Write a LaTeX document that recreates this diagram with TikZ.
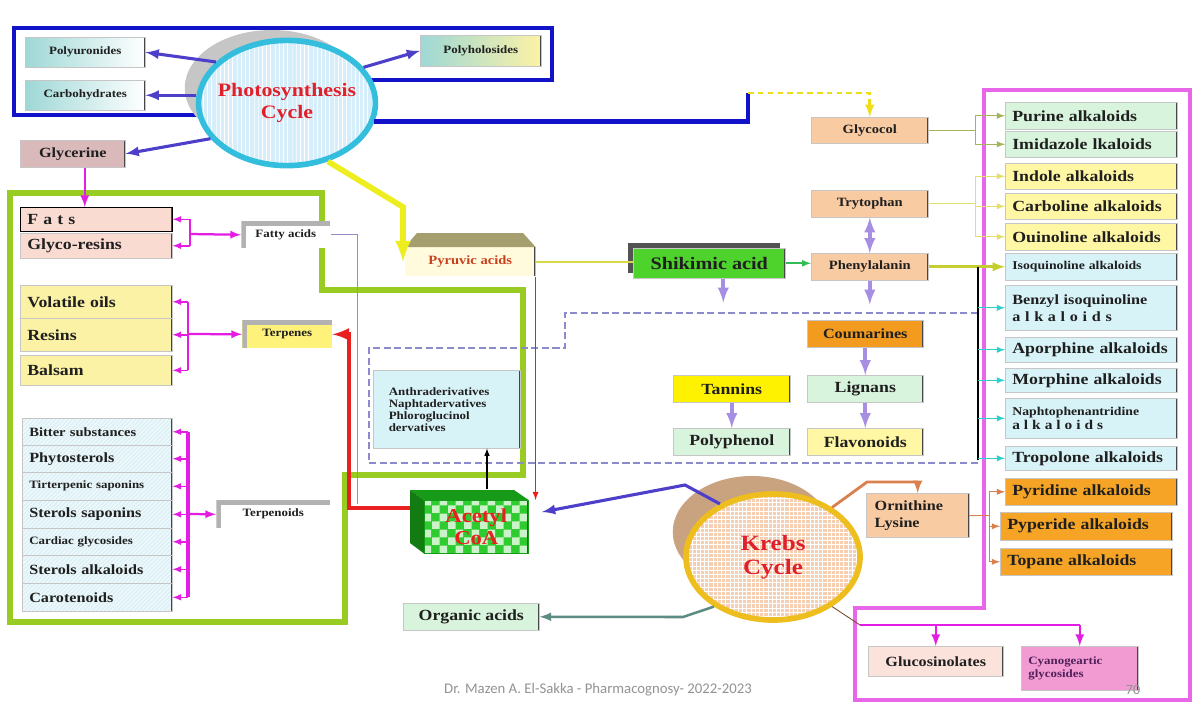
\documentclass[tikz,border=0pt]{standalone}
\usepackage{fontspec}
\setmainfont{Liberation Serif}[FakeStretch=1.15]
\newfontfamily\footfont{Carlito}
\usetikzlibrary{arrows,shapes,positioning,patterns}

\definecolor{frameblue}{HTML}{1212C8}
\definecolor{arrowblue}{HTML}{4E3FCB}
\definecolor{framegreen}{HTML}{99CC22}
\definecolor{framepink}{HTML}{E866E8}
\definecolor{magarrow}{HTML}{E41CE4}
\definecolor{lavarrow}{HTML}{A68FE2}
\definecolor{yelarrow}{HTML}{EEEE1E}
\definecolor{redline}{HTML}{E82020}
\definecolor{dashblue}{HTML}{8A8ACC}
\definecolor{boxteal}{HTML}{9ED8D6}
\definecolor{glycfill}{HTML}{D9B9B9}
\definecolor{fatfill}{HTML}{FADBD2}
\definecolor{oilfill}{HTML}{FCF2A6}
\definecolor{terpfill}{HTML}{FFF27A}
\definecolor{listfill}{HTML}{DDF1F7}
\definecolor{pyrfill}{HTML}{FFFBDC}
\definecolor{pyrtop}{HTML}{A59E6E}
\definecolor{pyrtext}{HTML}{C8401E}
\definecolor{shikfill}{HTML}{4ED22C}
\definecolor{peach}{HTML}{F9CBA3}
\definecolor{coumfill}{HTML}{F39B1E}
\definecolor{mintfill}{HTML}{D8F4DC}
\definecolor{lemonfill}{HTML}{FFF7A4}
\definecolor{tannfill}{HTML}{FFF200}
\definecolor{skyfill}{HTML}{D8F3F8}
\definecolor{orangefill}{HTML}{F5A425}
\definecolor{glucfill}{HTML}{FBE3DC}
\definecolor{cyanofill}{HTML}{F29BD2}
\definecolor{cyanotext}{HTML}{50205A}
\definecolor{phfill}{HTML}{D6EEFA}
\definecolor{phring}{HTML}{33BEDD}
\definecolor{phred}{HTML}{E0202A}
\definecolor{krfill}{HTML}{F6CFB2}
\definecolor{krring}{HTML}{EEBE1E}
\definecolor{krshadow}{HTML}{C9A27F}
\definecolor{coagreen}{HTML}{2ECC2E}
\definecolor{coadark}{HTML}{179A17}
\definecolor{orarrow}{HTML}{D9804E}
\definecolor{tealarrow}{HTML}{5C8C84}
\definecolor{linkolive}{HTML}{A2B45A}
\definecolor{linkyellow}{HTML}{E2E06A}
\definecolor{isoline}{HTML}{C5CE2E}
\definecolor{tipcyan}{HTML}{2FCFCF}
\definecolor{pyrlink}{HTML}{D8D848}
\definecolor{greenlink}{HTML}{33BB55}

\begin{document}
\begin{tikzpicture}[x=0.025cm, y=-0.025cm,
    every node/.style={text=black!88},
    box/.style 2 args={draw=gray!45, anchor=north west, inner sep=0pt,
      minimum width=#1*0.025cm, minimum height=#2*0.025cm, align=center,
      path picture={\draw[gray!55!black, line width=1.2pt]
        (path picture bounding box.north east) -- (path picture bounding box.south east);}},
    lbox/.style 2 args={box={#1}{#2}, inner xsep=5pt, text width=#1*0.025cm-10pt, align=left},
    lshape/.style 2 args={box={#1}{#2}, draw=none,
      path picture={\draw[gray!60, line width=6pt]
        (path picture bounding box.south west) |- (path picture bounding box.north east);}},
    hatch/.style={preaction={fill=#1}, pattern=north east lines, pattern color=white},
    sA/.style={font=\bfseries\fontsize{8}{9}\selectfont},
    sB/.style={font=\bfseries\fontsize{9}{10}\selectfont},
    sC/.style={font=\bfseries\fontsize{10}{12}\selectfont},
    sD/.style={font=\bfseries\fontsize{11}{13}\selectfont},
    sE/.style={font=\bfseries\fontsize{12.5}{14}\selectfont},
    bluearr/.style={arrowblue, line width=2.2pt, -latex},
    magarr/.style={magarrow, line width=1.1pt, -latex},
    lavarr/.style={lavarrow, line width=2.6pt, -latex},
    tiparr/.style={line width=1pt, -latex}]

  \useasboundingbox (0,0) rectangle (1195,705);
  \fill[white] (0,0) rectangle (1195,705);

  \draw[frameblue, line width=3.5pt] (14,28) -- (552,28) -- (552,80) -- (290,80) -- (290,115) -- (14,115) -- cycle;
  \draw[framegreen, line width=4pt] (10,193) -- (322,193) -- (322,290) -- (523,290) -- (523,475)
    -- (345,475) -- (345,622) -- (10,622) -- cycle;
  \draw[dashblue, line width=0.8pt, dash pattern=on 5pt off 2.5pt]
    (978,313) -- (565,313) -- (565,348) -- (369,348) -- (369,463) -- (978,463);
  \draw[framepink, line width=3pt] (984,90) -- (1190,90) -- (1190,700) -- (855,700) -- (855,608) -- (984,608) -- cycle;

  \fill[gray!45] (272,88) ellipse [x radius=2.18cm, y radius=1.45cm];
  \node[ellipse, draw=phring, line width=4pt, preaction={fill=phfill}, pattern=vertical lines, pattern color=white,
    minimum width=4.42cm, minimum height=3.13cm, inner sep=0pt] (photo) at (287,103) {};
  \node[text=phred, font=\bfseries\fontsize{13.5}{15.5}\selectfont, align=center] (phtext) at (photo.center) {Photosynthesis\\Cycle};

  \fill[krshadow] (752,532) ellipse [x radius=1.98cm, y radius=1.4cm];
  \node[ellipse, draw=krring, line width=4pt, preaction={fill=krfill}, pattern=grid, pattern color=white,
    minimum width=4.35cm, minimum height=3.15cm, inner sep=0pt] (krebs) at (773,557) {};
  \node[text=phred, font=\bfseries\fontsize{15.5}{17}\selectfont, align=center] (krtext) at (krebs.center) {Krebs\\Cycle};

  \node[box={120}{30}, sA, left color=boxteal, right color=white] (poly) at (25,37) {Polyuronides};
  \node[box={120}{30}, sA, left color=boxteal, right color=white] (carb) at (25,80) {Carbohydrates};
  \node[box={121}{31}, sA, left color=boxteal, right color=oilfill] (polyh) at (420,35) {Polyholosides};
  \node[box={105}{27}, sC, fill=glycfill] (glyc) at (20,140) {Glycerine};

  \node[lbox={152}{24}, sD, fill=fatfill, draw=black] (fats) at (20,207) {F a t s};
  \node[lbox={152}{25}, sD, fill=fatfill] (gres) at (20,233) {Glyco-resins};
  \node[lshape={89}{27}, sA, fill=white] (fatty) at (241,221) {Fatty acids};

  \node[lbox={152}{33}, sD, fill=oilfill] (vol) at (20,285) {Volatile oils};
  \node[lbox={152}{33}, sD, fill=oilfill] (res) at (20,318) {Resins};
  \node[lbox={152}{30}, sD, fill=oilfill] (bal) at (20,355) {Balsam};
  \node[lshape={90}{28}, sA, fill=terpfill] (terp) at (242,320) {Terpenes};

  \node[lbox={150}{27}, sB, hatch=listfill] (bit) at (22,418) {Bitter substances};
  \node[lbox={150}{27}, sC, hatch=listfill] (phy) at (22,445) {Phytosterols};
  \node[lbox={150}{28}, sA, hatch=listfill] (tri) at (22,472) {Tirterpenic saponins};
  \node[lbox={150}{28}, sC, hatch=listfill] (sts) at (22,500) {Sterols saponins};
  \node[lbox={150}{27}, sA, hatch=listfill] (card) at (22,528) {Cardiac glycosides};
  \node[lbox={150}{28}, sC, hatch=listfill] (sal) at (22,555) {Sterols alkaloids};
  \node[lbox={150}{28}, sC, hatch=listfill] (caro) at (22,583) {Carotenoids};
  \node[lshape={114}{28}, sA, fill=white] (tpd) at (216,500) {Terpenoids};

  \node[box={130}{29}, sB, fill=pyrfill, draw=none, text=pyrtext] (pyr) at (405,247) {Pyruvic acids};
  \fill[pyrtop] (pyr.north west) -- ++(12,-14) -- ++(106,0) -- (pyr.north east) -- cycle;
  \fill[gray!65!black] (628,243) rectangle (780,273);
  \node[box={152}{30}, sE, fill=shikfill] (shik) at (633,248) {Shikimic acid};

  \node[box={147}{78}, font=\bfseries\fontsize{8}{8.5}\selectfont, fill=skyfill, inner xsep=10pt,
    text width=2.9cm, align=left] (anth) at (373,370) {Anthraderivatives\\Naphtadervatives\\Phloroglucinol\\dervatives};

  \node[box={104}{53}, draw=coadark, preaction={fill=coagreen}, pattern=checkerboard, pattern color=white!75!coagreen,
    text=redline, font=\bfseries\fontsize{14}{15}\selectfont] (acoa) at (424,500) {Acetyl\\CoA};
  \fill[coadark] (acoa.north west) -- ++(-14,-10) -- ++(104,0) -- (acoa.north east) -- cycle;
  \fill[coadark!80!black] (acoa.north west) -- ++(-14,-10) -- ++(0,53) -- (acoa.south west) -- cycle;

  \node[box={136}{27}, sD, fill=mintfill] (org) at (403,603) {Organic acids};

  \node[box={117}{27}, sD, fill=tannfill] (tann) at (673,375) {Tannins};
  \node[box={117}{27}, sD, fill=mintfill] (pphen) at (673,428) {Polyphenol};
  \node[box={116}{27}, sC, fill=coumfill] (coum) at (807,320) {Coumarines};
  \node[box={116}{27}, sD, fill=mintfill] (lign) at (807,375) {Lignans};
  \node[box={116}{27}, sD, fill=lemonfill] (flav) at (807,428) {Flavonoids};

  \node[box={117}{26}, sB, fill=peach] (glyco) at (811,117) {Glycocol};
  \node[box={117}{27}, sB, fill=peach] (tryp) at (811,190) {Trytophan};
  \node[box={117}{27}, sB, fill=peach] (phen) at (811,253) {Phenylalanin};

  \node[lbox={100}{44}, sC, fill=peach, inner xsep=6pt] (orn) at (866,493) {Ornithine\\Lysine};
  \node[box={135}{30}, sC, fill=glucfill] (gluc) at (868,646) {Glucosinolates};
  \node[lbox={117}{44}, sA, fill=cyanofill, text=cyanotext] (cyano) at (1021,646) {Cyanogeartic\\glycosides};

  \node[lbox={172}{27}, sD, fill=mintfill] (pur) at (1005,102) {Purine alkaloids};
  \node[lbox={172}{26}, sD, fill=mintfill] (imid) at (1005,131) {Imidazole lkaloids};
  \node[lbox={172}{26}, sD, fill=lemonfill] (indo) at (1005,163) {Indole alkaloids};
  \node[lbox={172}{26}, sD, fill=lemonfill] (carbo) at (1005,193) {Carboline alkaloids};
  \node[lbox={172}{27}, sD, fill=lemonfill] (quin) at (1005,223) {Ouinoline alkaloids};
  \node[lbox={172}{27}, font=\bfseries\fontsize{8.5}{9}\selectfont, fill=skyfill] (isoq) at (1005,253) {Isoquinoline alkaloids};
  \node[lbox={172}{45}, sC, fill=skyfill] (benz) at (1005,285) {Benzyl isoquinoline\\a l k a l o i d s};
  \node[lbox={172}{25}, sD, fill=skyfill] (apor) at (1005,337) {Aporphine alkaloids};
  \node[lbox={172}{24}, sD, fill=skyfill] (morph) at (1005,368) {Morphine alkaloids};
  \node[lbox={172}{40}, font=\bfseries\fontsize{8.5}{9.5}\selectfont, fill=skyfill] (naph) at (1005,398)
    {Naphtophenantridine\\{\fontsize{9.5}{10}\selectfont a l k a l o i d s}};
  \node[lbox={172}{24}, sD, fill=skyfill] (trop) at (1005,446) {Tropolone alkaloids};
  \node[lbox={172}{27}, sD, fill=orangefill] (pyrid) at (1005,478) {Pyridine alkaloids};
  \node[lbox={172}{28}, sD, fill=orangefill] (pyper) at (1000,512) {Pyperide alkaloids};
  \node[lbox={172}{27}, sD, fill=orangefill] (topa) at (1000,548) {Topane alkaloids};

  \node[font=\footfont\fontsize{10.5}{12}\selectfont, text=gray!85] (foot) at (598,690) {Dr. Mazen A. El-Sakka - Pharmacognosy- 2022-2023};
  \node[font=\footfont\fontsize{10}{12}\selectfont, text=gray!85] (page) at (1133,690) {70};

  \coordinate (bend) at (748,93);
  \coordinate (yk) at (403,207);
  \coordinate (fbk) at (190,234);
  \coordinate (tbk) at (188,334);
  \coordinate (pbk) at (188,514);
  \coordinate (fl) at (357,504);
  \coordinate (al) at (410,508);
  \coordinate (rk) at (349,508);
  \coordinate (ka) at (487,489);
  \coordinate (kb) at (685,485);
  \coordinate (ae) at (542,512);
  \coordinate (ok) at (683,617);
  \coordinate (ob) at (867,482);
  \coordinate (mk) at (860,625);
  \coordinate (gk) at (975,130);
  \coordinate (tk) at (975,204);
  \coordinate (bk) at (978,460);
  \coordinate (ork) at (989,515);

  \draw[bluearr] (photo.150) -- (poly.east);
  \draw[bluearr] (carb.east -| photo.west) -- (carb.east);
  \draw[bluearr] (photo.25) -- (polyh.west);
  \draw[bluearr] (photo.205) -- (glyc.east);
  \draw[frameblue, line width=3.5pt] (photo.-12) -| (bend);
  \draw[yelarrow!85!orange, line width=2pt, dash pattern=on 4pt off 3pt, -latex] (bend) -| (glyco.north);
  \draw[yelarrow, line width=4pt, -latex] (photo.-55) -- (yk) -- (yk |- pyr.center);

  \draw[magarr, line width=1.8pt] ([xshift=0.3cm]glyc.south) -- ([xshift=0.3cm]glyc.south |- fats.north);
  \draw[magarrow, line width=1.1pt] (fbk |- fats.east) -- (fbk |- gres.east);
  \draw[magarr] (fbk |- fats.east) -- (fats.east);
  \draw[magarr] (fbk |- gres.east) -- (gres.east);
  \draw[magarr, line width=1.6pt] (fbk) -- (fatty.west);
  \draw[lavarrow!70!gray, line width=0.6pt] (fatty.east) -| (fl);

  \draw[magarrow, line width=1.1pt] (tbk |- vol.east) -- (tbk |- bal.east);
  \foreach \n in {vol,res,bal} \draw[magarr] (tbk |- \n.east) -- (\n.east);
  \draw[magarr, line width=1.6pt] (tbk) -- (terp.west);

  \draw[magarrow, line width=3.5pt] (pbk |- bit.east) -- (pbk |- caro.east);
  \foreach \n in {bit,phy,tri,sts,card,sal,caro} \draw[magarr] (pbk |- \n.east) -- (\n.east);
  \draw[magarr, line width=1.6pt] (pbk) -- (tpd.west);

  \draw[redline, line width=3pt, -latex] (al) -- (rk) |- (terp.east);
  \draw[redline, line width=1pt, -latex] (pyr.south east) -- (pyr.south east |- acoa.north);
  \draw[black, line width=0.8pt, -latex] (ka) -- (ka |- anth.south);

  \draw[pyrlink, line width=1.2pt] (pyr.east) -- (pyr.east -| shik.west);
  \draw[greenlink, line width=1.2pt, -latex] (shik.east) -- (shik.east -| phen.west);
  \draw[lavarr] ([xshift=0.35cm]shik.south) -- ++(0,24);
  \draw[lavarr] (phen.south) -- ++(0,24);
  \draw[lavarrow, line width=2.6pt, latex-latex] (tryp.south) -- (phen.north);
  \draw[lavarr] (coum.south) -- (lign.north);
  \draw[lavarr] (lign.south) -- (flav.north);
  \draw[lavarr] (tann.south) -- (pphen.north);

  \draw[linkolive, line width=0.6pt] (glyco.east) -- (gk |- glyco.east);
  \draw[linkolive, line width=0.6pt] (gk |- pur.west) -- (gk |- imid.west);
  \foreach \n in {pur,imid} \draw[linkolive, tiparr] (gk |- \n.west) -- (\n.west);
  \draw[linkyellow, line width=0.6pt] (tryp.east) -- (tk |- tryp.east);
  \draw[linkyellow, line width=0.6pt] (tk |- indo.west) -- (tk |- quin.west);
  \foreach \n in {indo,carbo,quin} \draw[linkyellow, tiparr] (tk |- \n.west) -- (\n.west);
  \draw[isoline, line width=2pt, -latex] (phen.east) -- (isoq.west);
  \draw[black, line width=0.8pt] (bk |- phen.east) -- (bk);
  \foreach \n in {benz,apor,morph,naph,trop} \draw[tipcyan, tiparr] (bk |- \n.west) -- (\n.west);

  \draw[bluearr] (krebs.135) -- (kb) -- (ae);
  \draw[tealarrow, line width=1.8pt, -latex] (krebs.-140) -- (ok) -- (org.east);
  \draw[orarrow, line width=2pt, -latex] (krebs.40) -- (ob) -| (orn.north);
  \draw[orarrow, line width=0.6pt] (orn.east) -- (ork |- orn.east);
  \draw[orarrow, line width=0.6pt] (ork |- pyrid.west) -- (ork |- topa.west);
  \foreach \n in {pyrid,pyper,topa} \draw[orarrow, tiparr] (ork |- \n.west) -- (\n.west);
  \draw[brown!60!black, line width=0.6pt] (krebs.-40) -- (mk);
  \draw[magarrow, line width=1.8pt] (mk) -- (mk -| cyano.north);
  \draw[magarr, line width=1.8pt] (mk -| gluc.north) -- (gluc.north);
  \draw[magarr, line width=1.8pt] (mk -| cyano.north) -- (cyano.north);
\end{tikzpicture}
\end{document}
